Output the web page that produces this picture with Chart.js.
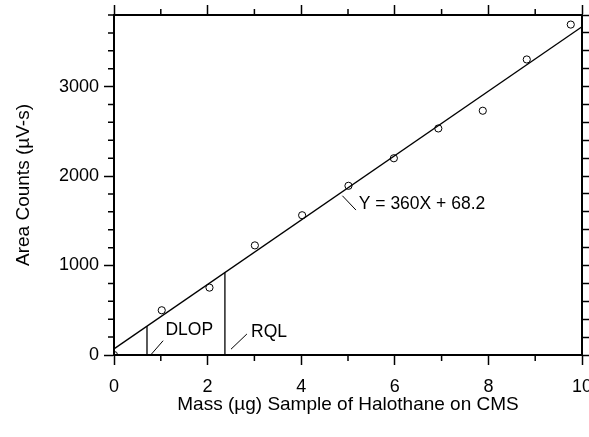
<!DOCTYPE html>
<html>
<head>
<meta charset="utf-8">
<script src="https://cdn.jsdelivr.net/npm/chart.js@4"></script>
<style>
  html, body { margin: 0; padding: 0; background: #fff; }
  #wrap { width: 589px; height: 437px; position: relative; }
</style>
</head>
<body>
<div id="wrap"><canvas id="calChart"></canvas></div>
<script>
// measured standards (mass in ug, area counts in uV-s)
const massValues = [0, 1.02, 2.04, 3.01, 4.02, 5.01, 5.98, 6.93, 7.88, 8.82, 9.76];
const areaValues = [0, 500, 753, 1225, 1562, 1891, 2199, 2532, 2730, 3303, 3693];

// regression line Y = 360X + 68.2
const fitSlope = 360;
const fitIntercept = 68.2;
const fitRange = [0, 10];

// detection limit and reliable quantitation limit (ug)
const limitNames = ['DLOP', 'RQL'];
const limitMass = [0.705, 2.37];

const xTicks = [0, 2, 4, 6, 8, 10];
const yTicks = [0, 1000, 2000, 3000];
const xMax = 10;
const yMax = 3800;

const FONT = 'Arial, "Liberation Sans", sans-serif';
const fitY = x => fitSlope * x + fitIntercept;

const pts = massValues.map((m, i) => ({ x: m, y: areaValues[i] }));
const fitPts = fitRange.map(x => ({ x: x, y: fitY(x) }));
const limitSets = limitMass.map(m => ({
  type: 'line',
  data: [{ x: m, y: 0 }, { x: m, y: fitY(m) }],
  borderColor: '#000', borderWidth: 1.3, pointRadius: 0, fill: false
}));

// minor ticks + leader labels
const extras = {
  id: 'extras',
  afterDraw(chart) {
    const { ctx, scales: { x, y } } = chart;
    const a = chart.chartArea;
    ctx.save();
    ctx.strokeStyle = '#000';
    ctx.lineWidth = 1.5;
    ctx.beginPath();
    for (let v = 1; v < xMax; v += 2) {
      const px = x.getPixelForValue(v);
      ctx.moveTo(px, a.bottom); ctx.lineTo(px, a.bottom + 6);
      ctx.moveTo(px, a.top); ctx.lineTo(px, a.top - 6);
    }
    for (let v = 200; v <= yMax; v += 200) {
      if (v % 1000 === 0) continue;
      const py = y.getPixelForValue(v);
      ctx.moveTo(a.left, py); ctx.lineTo(a.left - 6, py);
    }
    ctx.stroke();

    // leaders + text
    const labels = [
      { text: limitNames[0], from: [0.8, 10], to: [1.05, 160], tx: 1.1, ty: 280 },
      { text: limitNames[1], from: [2.5, 65], to: [2.84, 235], tx: 2.93, ty: 260 },
      { text: 'Y = ' + fitSlope + 'X + ' + fitIntercept, from: [4.88, 1780], to: [5.17, 1620], tx: 5.23, ty: 1690 }
    ];
    ctx.lineWidth = 1;
    ctx.fillStyle = '#000';
    ctx.font = '17.5px ' + FONT;
    ctx.textBaseline = 'middle';
    ctx.textAlign = 'left';
    labels.forEach(l => {
      ctx.beginPath();
      ctx.moveTo(x.getPixelForValue(l.from[0]), y.getPixelForValue(l.from[1]));
      ctx.lineTo(x.getPixelForValue(l.to[0]), y.getPixelForValue(l.to[1]));
      ctx.stroke();
      ctx.fillText(l.text, x.getPixelForValue(l.tx), y.getPixelForValue(l.ty));
    });
    ctx.restore();
  }
};

const tickFont = { family: FONT, size: 18 };
const titleFont = { family: FONT, size: 19 };
const gridMajor = { drawOnChartArea: false, color: '#000', tickLength: 10, tickWidth: 1.5, tickColor: '#000' };

new Chart(document.getElementById('calChart'), {
  type: 'scatter',
  data: {
    datasets: [
      {
        data: pts,
        showLine: false,
        pointStyle: 'circle',
        pointRadius: 3.6,
        pointBorderWidth: 1,
        pointBorderColor: '#000',
        pointBackgroundColor: 'rgba(0,0,0,0)'
      },
      {
        type: 'line',
        data: fitPts,
        borderColor: '#000', borderWidth: 1.3, pointRadius: 0, fill: false
      },
      ...limitSets
    ]
  },
  options: {
    responsive: true,
    maintainAspectRatio: false,
    animation: false,
    layout: { padding: 0 },
    plugins: { legend: { display: false }, tooltip: { enabled: false } },
    scales: {
      x: {
        type: 'linear', position: 'bottom', min: 0, max: xMax,
        grid: gridMajor,
        border: { display: true, color: '#000', width: 2 },
        afterBuildTicks: s => { s.ticks = xTicks.map(v => ({ value: v })); },
        ticks: { color: '#000', font: tickFont, padding: 11, maxRotation: 0, callback: v => String(v) },
        title: { display: true, text: 'Mass (µg) Sample of Halothane on CMS', color: '#000', font: titleFont, padding: { top: 0, bottom: 21 } },
        afterFit: s => { s.height = 82; s.paddingLeft = 0; s.paddingRight = 0; }
      },
      y: {
        type: 'linear', position: 'left', min: 0, max: yMax,
        grid: gridMajor,
        border: { display: true, color: '#000', width: 2 },
        afterBuildTicks: s => { s.ticks = yTicks.map(v => ({ value: v })); },
        ticks: { color: '#000', font: tickFont, padding: 5, callback: v => String(v) },
        title: { display: true, text: 'Area Counts (µV-s)', color: '#000', font: titleFont, padding: { top: 12, bottom: 0 } },
        afterFit: s => { s.width = 114; s.paddingTop = 0; s.paddingBottom = 0; }
      },
      x2: {
        type: 'linear', position: 'top', min: 0, max: xMax,
        grid: gridMajor,
        border: { display: true, color: '#000', width: 2 },
        afterBuildTicks: s => { s.ticks = xTicks.map(v => ({ value: v })); },
        ticks: { display: false },
        afterFit: s => { s.height = 15; s.paddingLeft = 0; s.paddingRight = 0; }
      },
      y2: {
        type: 'linear', position: 'right', min: 0, max: yMax,
        grid: { drawOnChartArea: false, color: '#000', tickLength: 7, tickWidth: 1.5, tickColor: '#000' },
        border: { display: true, color: '#000', width: 2 },
        afterBuildTicks: s => {
          const t = [];
          for (let v = 0; v <= yMax; v += 200) t.push({ value: v });
          s.ticks = t;
        },
        ticks: { display: false },
        afterFit: s => { s.width = 7; s.paddingTop = 0; s.paddingBottom = 0; }
      }
    }
  },
  plugins: [extras]
});
</script>
</body>
</html>
